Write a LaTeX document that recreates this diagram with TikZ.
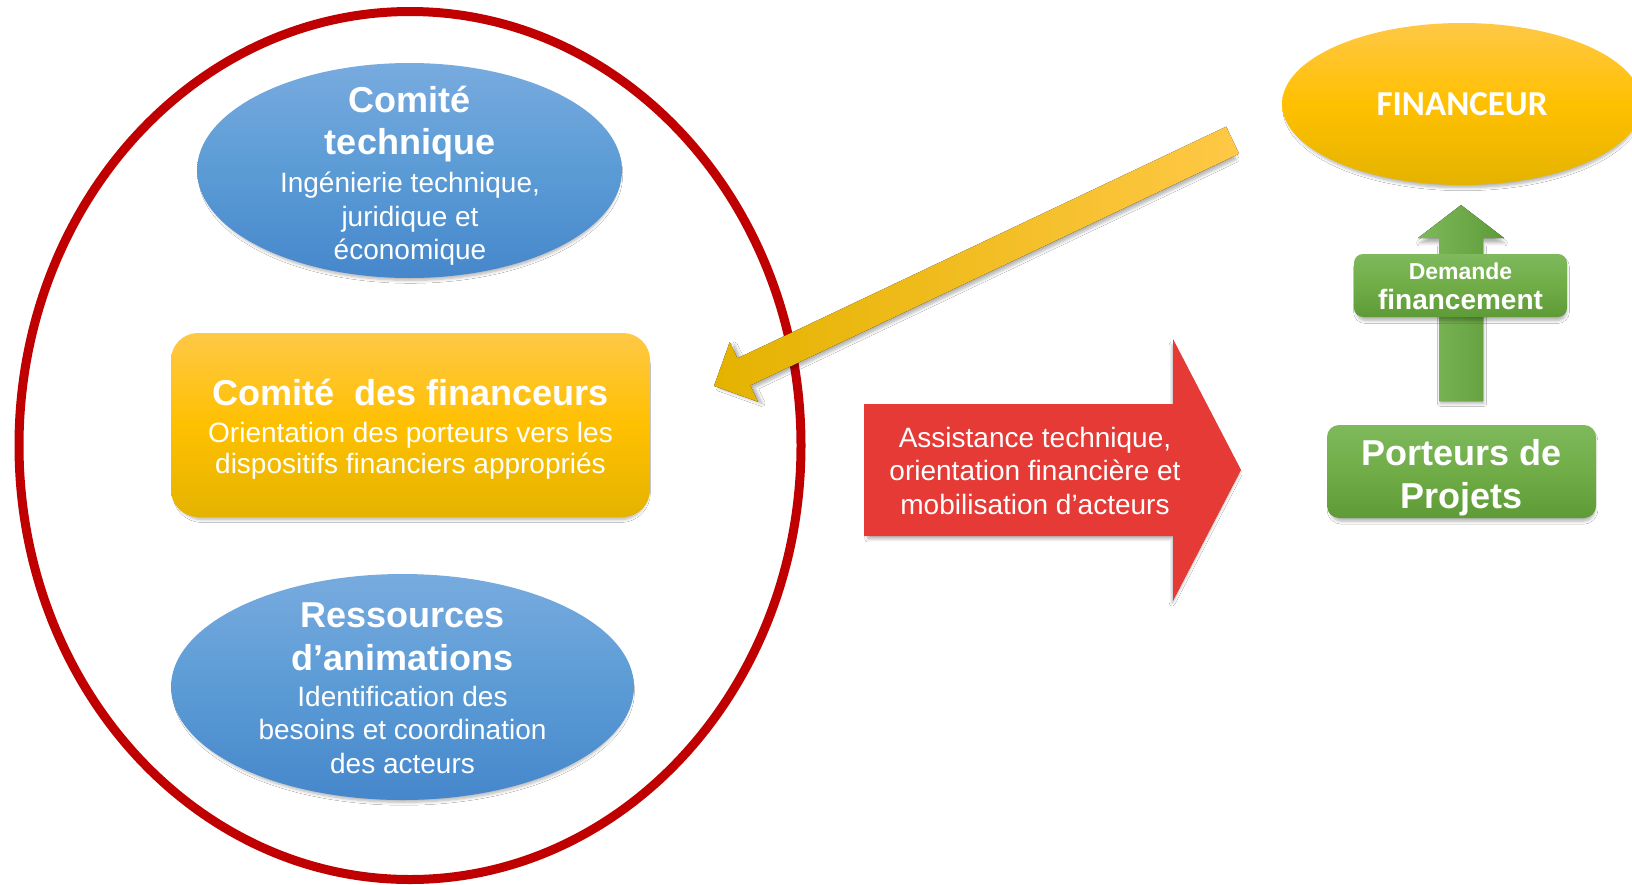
\documentclass[tikz,border=0pt]{standalone}
\usepackage{fontspec}
\setmainfont{Liberation Sans}
\newfontfamily\calibfont{Carlito}
\usetikzlibrary{shapes.geometric,shadows.blur,calc}
\definecolor{ringred}{HTML}{C00000}
\definecolor{blueT}{HTML}{78ABDF}
\definecolor{blueM}{HTML}{5B9BD5}
\definecolor{blueB}{HTML}{4687CC}
\definecolor{goldT}{HTML}{FFC846}
\definecolor{goldM}{HTML}{FFC000}
\definecolor{goldB}{HTML}{E4B300}
\definecolor{greenT}{HTML}{7EB95C}
\definecolor{greenM}{HTML}{70AD47}
\definecolor{greenB}{HTML}{5E9B37}
\definecolor{arrowred}{HTML}{E53A35}
\newcommand\ttlf{\fontsize{36}{43}\selectfont\bfseries}
\begin{document}
\begin{tikzpicture}[x=1pt,y=-1pt]
\tikzset{
  shadowed/.style={blur shadow={shadow xshift=1pt, shadow yshift=-4pt, shadow scale=0.985, shadow blur radius=3pt, shadow blur steps=6, shadow opacity=30}},
  blueell/.style={ellipse, inner sep=0pt, top color=blueT, bottom color=blueB, middle color=blueM, shadowed},
  goldell/.style={ellipse, inner sep=0pt, top color=goldT, bottom color=goldB, middle color=goldM, shadowed},
  goldbox/.style={rectangle, inner sep=0pt, rounded corners=27pt, top color=goldT, bottom color=goldB, middle color=goldM, shadowed},
  greenbox/.style={rectangle, inner sep=0pt, top color=greenT, bottom color=greenB, middle color=greenM, shadowed},
  wtxt/.style={text=white, align=center, inner sep=0pt, font=\fontsize{28}{33.5}\selectfont},
  ringstyle/.style={ellipse, draw=ringred, line width=9pt, inner sep=0pt},
}
\fill[white] (0,0) rectangle (1632,884);
\useasboundingbox (0,0) rectangle (1632,884);

% big red ring
\node[ringstyle, minimum width=782pt, minimum height=868pt] (ring) at (410,445.5) {};

% Comite technique
\node[blueell, minimum width=425pt, minimum height=215pt] (ct) at (409.5,170.5) {};
\node[wtxt] (ctt) at (410,175.5) {{\ttlf Comité}\\[8.5pt]{\ttlf technique}\\[5pt]Ingénierie technique,\\juridique et\\économique};

% Comite des financeurs
\node[goldbox, minimum width=479pt, minimum height=184pt] (cf) at (410.5,425) {};
\node[wtxt, font=\fontsize{28}{31}\selectfont] (cft) at (410.5,429) {{\ttlf Comité\ \ des financeurs}\\[6pt]Orientation des porteurs vers les\\dispositifs financiers appropriés};

% Ressources d'animations
\node[blueell, minimum width=463pt, minimum height=226pt] (ra) at (402.5,687) {};
\node[wtxt] (rat) at (402.5,688) {{\ttlf Ressources}\\[9.5pt]{\ttlf d’animations}\\[2pt]Identification des\\besoins et coordination\\des acteurs};

% FINANCEUR
\node[goldell, minimum width=360pt, minimum height=162pt] (fin) at (1462,104) {};
\node[text=white, inner sep=0pt, font=\calibfont\bfseries\fontsize{35}{40}\selectfont] (fint) at (fin.center) {FINANCEUR};

% yellow arrow from financeur to comite des financeurs
\coordinate (ytip) at (714,386);
\coordinate (ytail) at (1233,140);
\begin{scope}[shift={(ytip)}, rotate=25.36]
\fill[left color=goldB, right color=goldT, shadowed]
  (0,0) -- (33,33) -- (33,15) -- (574,15) -- (574,-15) -- (33,-15) -- (33,-33) -- cycle;
\end{scope}

% red block arrow
\coordinate (rtail) at (864,470);
\begin{scope}[shift={(rtail)}]
\fill[arrowred, shadowed]
  (0,-66) -- (309,-66) -- (309,-131) -- (377,0) -- (309,131) -- (309,66) -- (0,66) -- cycle;
\end{scope}
\node[wtxt] (rtxt) at (1035,470.5) {Assistance technique,\\orientation financière et\\mobilisation d’acteurs};

% Porteurs de projets
\node[greenbox, rounded corners=12pt, minimum width=269pt, minimum height=93pt] (pp) at (1461.5,471.5) {};
\node[text=white, align=center, inner sep=0pt, font=\fontsize{36}{43}\selectfont\bfseries] (ppt) at ([yshift=-6pt]pp.center) {Porteurs de\\Projets};

% green up arrow
\coordinate (gtop) at (1461,205);
\begin{scope}[shift={(gtop)}]
\fill[left color=greenT, right color=greenB, shadowed]
  (0,0) -- (43,33) -- (22,33) -- (22,196) -- (-22,196) -- (-22,33) -- (-43,33) -- cycle;
\end{scope}

% Demande financement
\node[greenbox, rounded corners=9pt, minimum width=213pt, minimum height=63pt] (df) at (1460.5,285.5) {};
\node[text=white, align=center, inner sep=0pt, font=\fontsize{28}{30}\selectfont\bfseries] (dft) at ([yshift=-1pt]df.center) {{\fontsize{23}{30}\selectfont\bfseries Demande}\\financement};
\end{tikzpicture}
\end{document}
